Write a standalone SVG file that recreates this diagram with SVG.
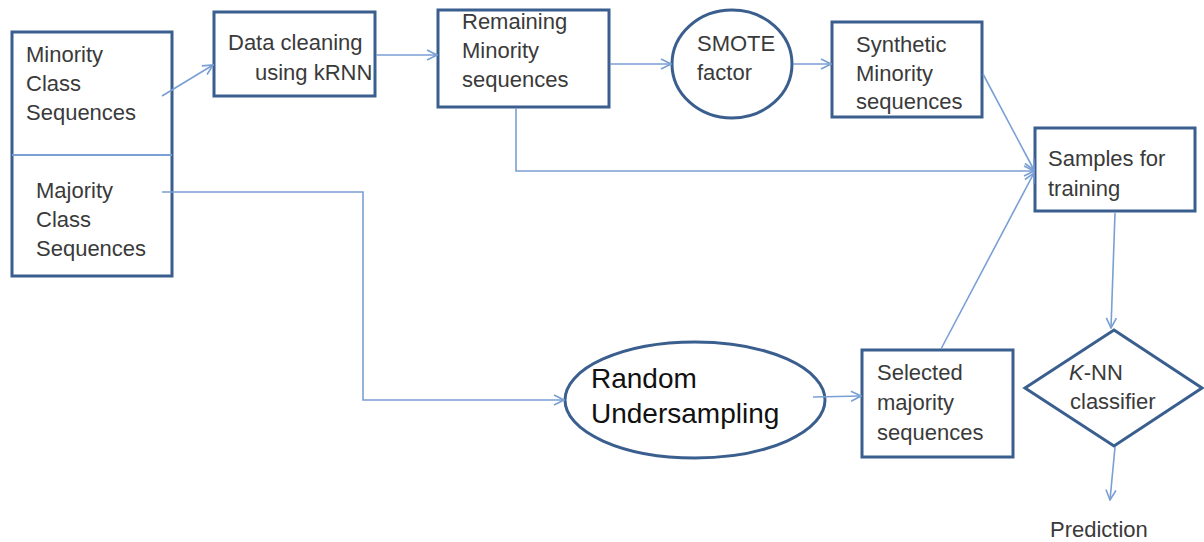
<svg xmlns="http://www.w3.org/2000/svg" width="1204" height="542" viewBox="0 0 1204 542">
<style>
.box{fill:#fff;stroke:#3a5f8f;stroke-width:3}
.ln{fill:none;stroke:#7a9fd4;stroke-width:1.6}
.t{font-family:"Liberation Sans",Arial,sans-serif;font-size:22px;fill:#3a3a3a}
.tb{font-family:"Liberation Sans",Arial,sans-serif;font-size:28px;fill:#111}
</style>
<defs>
<marker id="ar" viewBox="0 0 12 12" refX="11" refY="6" markerWidth="12" markerHeight="12" markerUnits="userSpaceOnUse" orient="auto">
<path d="M1,1 L11,6 L1,11" fill="none" stroke="#7a9fd4" stroke-width="1.6"/>
</marker>
</defs>
<g id="classes">
<rect class="box" x="12" y="32" width="160" height="244"/>
<line x1="12" y1="155" x2="172" y2="155" stroke="#7a9fd4" stroke-width="2"/>
<text class="t" x="26" y="62">Minority</text>
<text class="t" x="26" y="91">Class</text>
<text class="t" x="26" y="120">Sequences</text>
<text class="t" x="36" y="198">Majority</text>
<text class="t" x="36" y="227">Class</text>
<text class="t" x="36" y="256">Sequences</text>
</g>
<g id="cleaning">
<rect class="box" x="214" y="12" width="161" height="84"/>
<text class="t" x="228" y="50">Data cleaning</text>
<text class="t" x="255" y="80">using kRNN</text>
</g>
<g id="remaining">
<rect class="box" x="438" y="10" width="171" height="97"/>
<text class="t" x="462" y="29">Remaining</text>
<text class="t" x="462" y="58">Minority</text>
<text class="t" x="462" y="87">sequences</text>
</g>
<g id="smote">
<ellipse class="box" cx="732" cy="64" rx="60" ry="54"/>
<text class="t" x="697" y="51">SMOTE</text>
<text class="t" x="697" y="80">factor</text>
</g>
<g id="synthetic">
<rect class="box" x="832" y="22" width="150" height="95"/>
<text class="t" x="856" y="52">Synthetic</text>
<text class="t" x="856" y="81">Minority</text>
<text class="t" x="856" y="109">sequences</text>
</g>
<g id="samples">
<rect class="box" x="1035" y="128" width="160" height="83"/>
<text class="t" x="1048" y="166">Samples for</text>
<text class="t" x="1048" y="196">training</text>
</g>
<g id="undersampling">
<ellipse class="box" cx="695" cy="400" rx="130" ry="58"/>
<text class="tb" x="591" y="388">Random</text>
<text class="tb" x="591" y="423">Undersampling</text>
</g>
<g id="selected">
<rect class="box" x="862" y="350" width="151" height="107"/>
<text class="t" x="877" y="380">Selected</text>
<text class="t" x="877" y="410">majority</text>
<text class="t" x="877" y="440">sequences</text>
</g>
<g id="knn">
<polygon class="box" points="1114,330 1202,388 1114,446 1025,388"/>
<text class="t" x="1069" y="380"><tspan font-style="italic">K</tspan>-NN</text>
<text class="t" x="1070" y="409">classifier</text>
</g>
<g id="prediction">
<text class="t" x="1050" y="537">Prediction</text>
</g>
<g id="connectors">
<path class="ln" d="M162,96 L213,65" marker-end="url(#ar)"/>
<path class="ln" d="M162,192 L363,192 L363,400 L564,400" marker-end="url(#ar)"/>
<path class="ln" d="M376,55 L437,55" marker-end="url(#ar)"/>
<path class="ln" d="M610,64 L671,64" marker-end="url(#ar)"/>
<path class="ln" d="M793,64 L831,64" marker-end="url(#ar)"/>
<path class="ln" d="M983,74 L1034,170" marker-end="url(#ar)"/>
<path class="ln" d="M516,108 L516,171 L1034,171" marker-end="url(#ar)"/>
<path class="ln" d="M941,349 L1034,173" marker-end="url(#ar)"/>
<path class="ln" d="M813,397 L861,396" marker-end="url(#ar)"/>
<path class="ln" d="M1115,213 L1111,328" marker-end="url(#ar)"/>
<path class="ln" d="M1115,447 L1110,500" marker-end="url(#ar)"/>
</g>
</svg>
